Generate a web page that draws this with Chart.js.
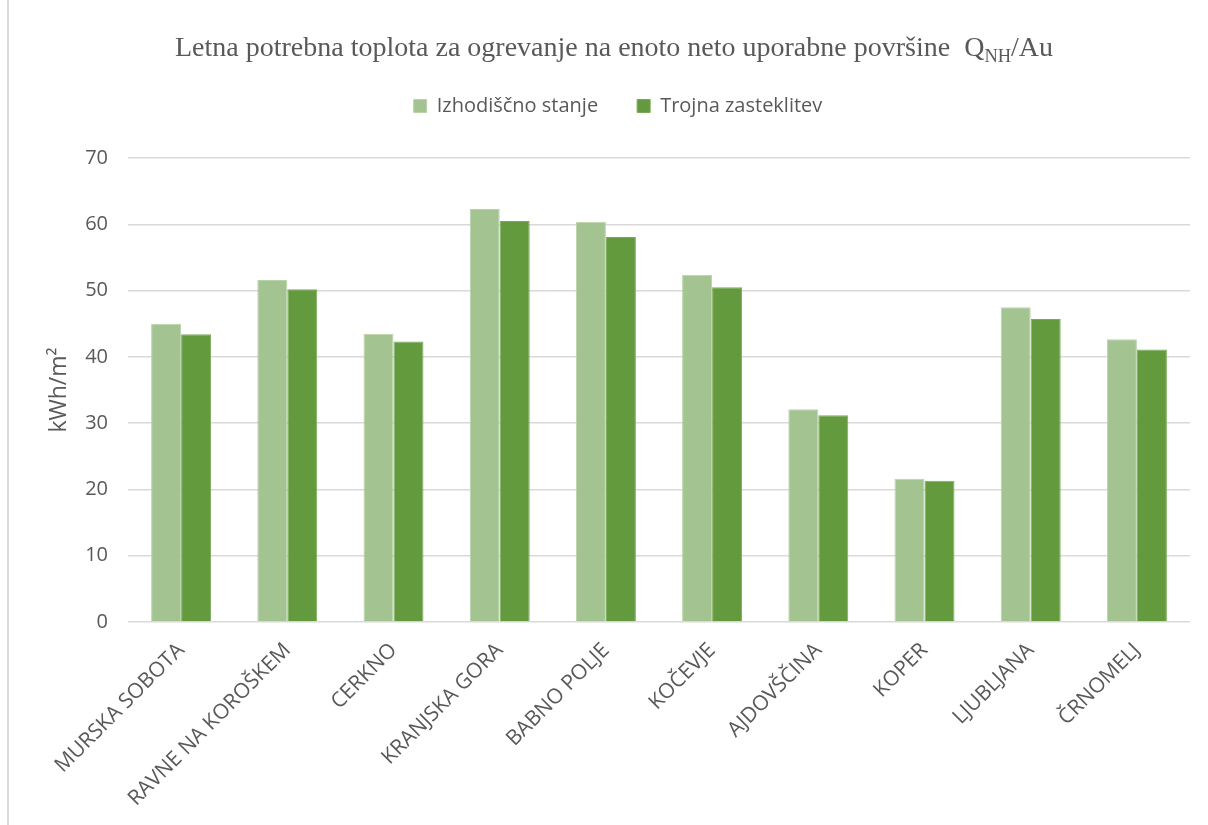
<!DOCTYPE html>
<html>
<head>
<meta charset="utf-8">
<script src="https://cdn.jsdelivr.net/npm/chart.js@4.4.1/dist/chart.umd.min.js"></script>
<style>
    html, body { margin: 0; padding: 0; background: #ffffff; }
    #wrap { position: relative; width: 1208px; height: 825px; }
    #edge { position: absolute; left: 7px; top: 0; width: 2px; height: 825px; background: #d9d9d9; }
    #title {
        position: absolute; left: 175px; top: 31px; white-space: nowrap;
        font-family: "Liberation Serif", "Times New Roman", serif; font-size: 28px; color: #595959;
    }
    #title sub { font-size: 0.66em; vertical-align: -0.3em; line-height: 0; }
</style>
</head>
<body>
<div id="wrap">
    <canvas id="heatChart" width="1208" height="825"></canvas>
    <div id="edge"></div>
    <div id="title">Letna potrebna toplota za ogrevanje na enoto neto uporabne površine&nbsp; Q<sub>NH</sub>/Au</div>
</div>
<script>
const locations = [
    'MURSKA SOBOTA', 'RAVNE NA KOROŠKEM', 'CERKNO', 'KRANJSKA GORA', 'BABNO POLJE',
    'KOČEVJE', 'AJDOVŠČINA', 'KOPER', 'LJUBLJANA', 'ČRNOMELJ'
];
const baseline = [45.0, 51.6, 43.5, 62.3, 60.4, 52.4, 32.1, 21.6, 47.5, 42.65];
const tripleGlazing = [43.4, 50.2, 42.3, 60.5, 58.1, 50.5, 31.2, 21.3, 45.7, 41.1];
const yTicks = [0, 10, 20, 30, 40, 50, 60, 70];

const grey = '#595959';
const font = 'Open Sans';

// legend sits a bit right of centre and closer to the title
const nudgeLegend = {
    id: 'nudgeLegend',
    afterLayout(chart) {
        const lg = chart.legend;
        lg.left += 23;
        lg.right += 23;
        lg.top -= 32;
        lg.bottom -= 32;
    }
};

function initializeHeatChart() {
    const chart = document.getElementById('heatChart');

    const data = {
        labels: locations,
        datasets: [{
            label: 'Izhodiščno stanje',
            data: baseline,
            backgroundColor: '#a3c490',
            borderColor: '#b9d3a9',
            borderWidth: 1
        }, {
            label: 'Trojna zasteklitev',
            data: tripleGlazing,
            backgroundColor: '#639a3e',
            borderColor: '#7aab5b',
            borderWidth: 1
        }]
    };

    const options = {
        responsive: false,
        animation: false,
        layout: {
            padding: { top: 89, right: 18, left: 0, bottom: 0 }
        },
        plugins: {
            legend: {
                position: 'top',
                labels: {
                    color: grey,
                    font: { family: font, size: 20 },
                    boxWidth: 13,
                    boxHeight: 13,
                    padding: 39
                }
            },
            tooltip: { enabled: false }
        },
        datasets: {
            bar: { categoryPercentage: 0.565, barPercentage: 1 }
        },
        scales: {
            x: {
                grid: { display: false },
                border: { display: false },
                ticks: {
                    color: grey,
                    font: { family: font, size: 21 },
                    minRotation: 45,
                    maxRotation: 45,
                    padding: 8
                },
                afterFit: (scale) => { scale.height = 203; }
            },
            y: {
                min: 0,
                max: 70,
                afterBuildTicks: (scale) => { scale.ticks = yTicks.map(v => ({ value: v })); },
                grid: { color: '#d9d9d9', lineWidth: 1.5, drawTicks: false },
                border: { display: false },
                ticks: {
                    color: grey,
                    font: { family: font, size: 20 },
                    padding: 20
                },
                title: {
                    display: true,
                    text: 'kWh/m²',
                    color: grey,
                    font: { family: font, size: 23 },
                    padding: { top: 46, bottom: 0 }
                },
                afterFit: (scale) => { scale.width = 128; }
            }
        }
    };

    new Chart(chart, {
        type: 'bar',
        data: data,
        options: options,
        plugins: [nudgeLegend]
    });
}

window.addEventListener('load', initializeHeatChart);
</script>
</body>
</html>
